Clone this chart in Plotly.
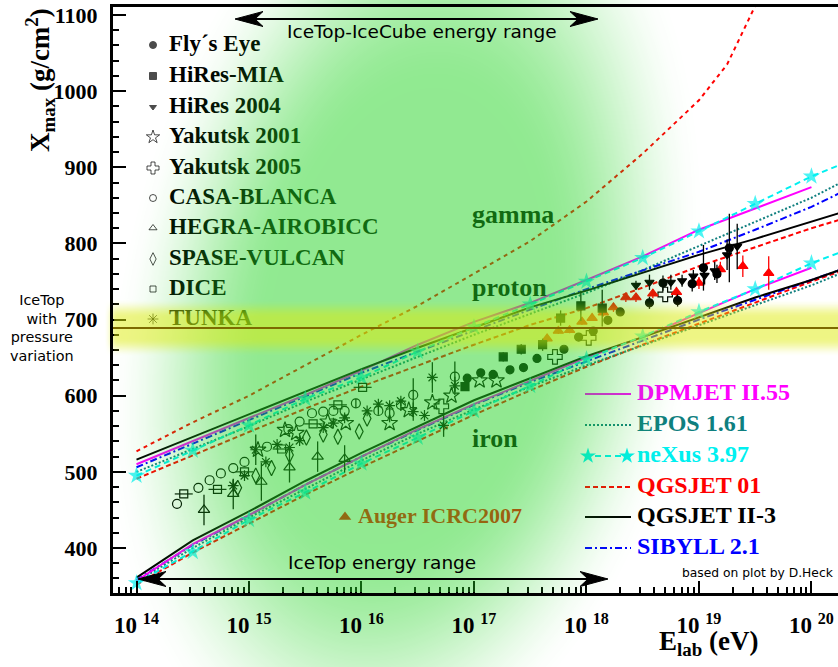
import base64
import struct
import zlib

import numpy as np
import plotly.graph_objects as go

# ---------------------------------------------------------------- page geometry
W, H = 838, 667
ML, MR, MT, MB = 113, 0, 7, 74
PW, PH = W - ML - MR, H - MT - MB
LGE_RANGE = [13.791, 20.236]          # lg(E/eV) across the frame
XMAX_RANGE = [340.9, 1110.5]          # g/cm^2 across the frame

# ---------------------------------------------------------------- model curves
lgE_model = [14.0, 14.5, 15.0, 15.5, 16.0, 16.5, 17.0, 17.5, 18.0, 18.5, 19.0, 19.5, 20.0, 20.25]

dpmjet_p = [510, 540, 570, 601, 633, 667, 697, 722, 752, 783, 818, 846, 874, None]
dpmjet_fe = [357, 405, 443, 483, 520, 556, 589, 620, 650, 677, 708, 740, 768, None]
epos_p = [500, 530, 560, 592, 622, 651, 680, 708, 735, 765, 797, 828, 860, 879]
epos_fe = [356, 400, 440, 478, 515, 550, 582, 612, 640, 666, 693, 719, 745, 760]
nexus_p = [495, 528, 561, 596, 624, 658, 690, 720, 750, 781, 816, 852, 888, 903]
nexus_fe = [354, 395, 437, 473, 511, 545, 580, 613, 648, 678, 710, 740, 774, 788]
qgsjet01_p = [491, 522, 553, 583, 612, 640, 667, 693, 715, 742, 770, 795, 820, 831]
qgsjet01_fe = [352, 394, 432, 470, 506, 541, 575, 607, 638, 667, 695, 722, 750, 763]
qgsjet2_p = [516, 546, 575, 605, 635, 663, 690, 716, 738, 762, 785, 806, 828, 840]
qgsjet2_fe = [361, 410, 448, 488, 525, 560, 594, 623, 652, 677, 703, 729, 752, 765]
sibyll_p = [506, 537, 568, 600, 630, 658, 686, 713, 740, 765, 789, 818, 848, 866]
sibyll_fe = [358, 404, 443, 483, 520, 555, 588, 618, 645, 673, 700, 726, 752, 765]

lgE_gamma = [14.0, 14.5, 15.0, 15.5, 16.0, 16.5, 17.0, 17.5, 18.0, 18.5, 19.0, 19.25, 19.5]
qgsjet01_gamma = [527, 565, 600, 640, 680, 718, 760, 803, 855, 918, 988, 1035, 1112]

# ---------------------------------------------------------------- measurements
flys_lgE = [16.94, 17.06, 17.17, 17.32, 17.44, 17.56, 17.80, 17.93, 18.06, 18.19, 18.30,
            18.56, 18.68, 18.81, 18.94, 19.04, 19.16, 19.27]
flys_X = [623, 630, 628, 634, 637, 649, 661, 677, 685, 699, 710, 722, 748, 725, 747, 768, 760, 794]
flys_err = [0, 0, 0, 0, 0, 0, 0, 0, 0, 4, 5, 8, 10, 8, 10, 30, 12, 45]

hiresmia_lgE = [16.92, 17.26, 17.42, 17.61, 17.77, 17.95, 18.14]
hiresmia_X = [612, 651, 661, 667, 702, 718, 715]
hiresmia_err = [5, 6, 7, 8, 10, 20, 24]

hires04_lgE = [18.44, 18.56, 18.75, 18.85, 18.95, 19.05, 19.14, 19.25, 19.34]
hires04_X = [745, 749, 749, 751, 757, 758, 764, 785, 796]
hires04_err = [6, 10, 10, 8, 8, 12, 12, 20, 30]

yak01_lgE = [15.08, 15.32, 15.42, 15.70, 15.86, 16.25, 16.42, 16.63, 16.80, 17.05, 17.20]
yak01_X = [529, 555, 551, 566, 564, 564, 581, 591, 600, 620, 620]

yak05_lgE = [16.71, 17.72, 18.02, 18.70]
yak05_X = [586, 651, 676, 733]

casa_lgE = [14.36, 14.55, 14.65, 14.75, 14.86, 14.96, 15.16, 15.35, 15.45, 15.56, 15.66, 15.75,
            15.85, 15.95, 16.15, 16.25, 16.35, 16.46, 16.83]
casa_X = [458, 479, 489, 498, 505, 513, 533, 556, 566, 577, 579, 580, 580, 590, 580, 577, 588, 601, 625]
casa_err = [0, 0, 0, 0, 0, 0, 0, 0, 0, 0, 0, 0, 0, 6, 5, 12, 8, 22, 20]

hegra_lgE = [14.60, 14.86, 15.11, 15.36, 15.61, 15.85]
hegra_X = [450, 471, 487, 506, 520, 517]
hegra_err = [20, 20, 25, 20, 20, 18]

spase_lgE = [14.90, 15.06, 15.20, 15.36, 15.51, 15.66, 15.79, 15.98, 16.05]
spase_X = [479, 495, 505, 522, 545, 549, 546, 553, 570]

dice_lgE = [14.42, 14.72, 14.96, 15.29, 15.57, 15.79, 16.01]
dice_X = [471, 477, 500, 530, 563, 588, 611]
dice_lgE_err = [0.08, 0.08, 0.08, 0.08, 0.08, 0.08, 0.08]

tunka_lgE = [14.86, 14.96, 15.06, 15.15, 15.25, 15.36, 15.45, 15.66, 15.75, 15.85, 16.05, 16.15,
             16.25, 16.35, 16.46, 16.56, 16.63, 16.73, 16.83]
tunka_X = [482, 495, 529, 513, 536, 532, 541, 558, 564, 571, 580, 589, 587, 593, 579, 574, 624, 561, 613]
tunka_err = [8, 0, 20, 0, 0, 0, 0, 0, 0, 0, 0, 0, 0, 0, 12, 0, 20, 15, 12]

auger_lgE = [17.65, 17.75, 17.85, 17.96, 18.05, 18.15, 18.24, 18.35, 18.44, 18.59, 18.80, 19.00,
             19.19, 19.39, 19.62]
auger_X = [675, 685, 686, 697, 702, 709, 716, 729, 729, 734, 736, 748, 766, 770, 761]
auger_err = [4, 4, 4, 4, 4, 5, 6, 6, 6, 6, 7, 8, 10, 14, 22]

# ---------------------------------------------------------------- labels
decades = [14, 15, 16, 17, 18, 19, 20]
decade_labels = ["10 <sup>14</sup>", "10 <sup>15</sup>", "10 <sup>16</sup>", "10 <sup>17</sup>",
                 "10 <sup>18</sup>", "10 <sup>19</sup>", "10 <sup>20</sup>"]
xmax_ticks = [400, 500, 600, 700, 800, 900, 1000, 1100]

exp_names = ["Fly´s Eye", "HiRes-MIA", "HiRes 2004", "Yakutsk 2001", "Yakutsk 2005",
             "CASA-BLANCA", "HEGRA-AIROBICC", "SPASE-VULCAN", "DICE", "TUNKA"]
model_names = ["DPMJET II.55", "EPOS 1.61", "neXus 3.97", "QGSJET 01", "QGSJET II-3", "SIBYLL 2.1"]

MAGENTA, TEAL, CYAN, RED, BLACK, BLUE = "#ff00ff", "#0f7f7f", "#00f0f0", "#ff0000", "#000000", "#0000ff"
SERIF = "Liberation Serif"
SANS = "DejaVu Sans"
ICETOP_XMAX = 689


def px_to_paper(px, py):
    return (px - ML) / PW, (H - MB - py) / PH


# ---------------------------------------------------------------- translucent colour wash
def smoothstep(e0, e1, v):
    t = np.clip((v - e0) / (e1 - e0), 0.0, 1.0)
    return t * t * (3 - 2 * t)


def png_uri(rgba):
    h, w, _ = rgba.shape
    rows = rgba.reshape(h, w * 4).astype(np.int16)
    sub = rows.copy()
    sub[:, 4:] = rows[:, 4:] - rows[:, :-4]
    sub = (sub % 256).astype(np.uint8)
    raw = b"".join(b"\x01" + sub[i].tobytes() for i in range(h))

    def chunk(tag, data):
        return (struct.pack(">I", len(data)) + tag + data
                + struct.pack(">I", zlib.crc32(tag + data) & 0xFFFFFFFF))

    png = (b"\x89PNG\r\n\x1a\n"
           + chunk(b"IHDR", struct.pack(">IIBBBBB", w, h, 8, 6, 0, 0, 0))
           + chunk(b"IDAT", zlib.compress(raw, 9))
           + chunk(b"IEND", b""))
    return "data:image/png;base64," + base64.b64encode(png).decode()


yy, xx = np.mgrid[0:H, 0:W].astype(float) + 0.5
cy = 330.0
cx = 405.0 + (cy - yy) * 0.12
ry = np.where(yy < cy, 440.0, 390.0)
dist = np.sqrt(((xx - cx) / 250.0) ** 2 + ((yy - cy) / ry) ** 2)
a_green = 0.5 * smoothstep(1.18, 0.55, dist)
band_y = 548 - (ICETOP_XMAX - 400) * (533 / 700)
a_yel = 0.5 * smoothstep(29, 10, np.abs(yy - band_y)) * smoothstep(104, 118, xx)
green = np.array([35.0, 212.0, 35.0])
yellow = np.array([222.0, 235.0, 10.0])
alpha = a_yel + a_green * (1 - a_yel)
rgb = (yellow * a_yel[..., None] + green * (a_green * (1 - a_yel))[..., None]) / np.maximum(alpha, 1e-6)[..., None]
inside = (xx >= ML + 1) & (yy >= MT + 1) & (yy <= H - MB - 1)


def wash(mask):
    img = np.zeros((H, W, 4), dtype=np.uint8)
    img[..., :3] = np.clip(np.round(rgb), 0, 255).astype(np.uint8)
    img[..., 3] = np.clip(np.round(255 * alpha * mask), 0, 255).astype(np.uint8)
    return png_uri(img)


# ---------------------------------------------------------------- figure
fig = go.Figure()


def add_curve(lg, vals, color, dash, width=2.0):
    fig.add_trace(go.Scatter(x=lg, y=vals, mode="lines", line=dict(color=color, dash=dash, width=width),
                             connectgaps=False, hoverinfo="skip"))


star_sizes = [13] * 13 + [0]
for p_vals, fe_vals, color, dash in [
    (qgsjet01_p, qgsjet01_fe, RED, "5px,3px"),
    (epos_p, epos_fe, TEAL, "2px,2px"),
    (sibyll_p, sibyll_fe, BLUE, "7px,3px,2px,3px"),
    (dpmjet_p, dpmjet_fe, MAGENTA, "solid"),
    (qgsjet2_p, qgsjet2_fe, BLACK, "solid"),
]:
    add_curve(lgE_model, p_vals, color, dash)
    add_curve(lgE_model, fe_vals, color, dash)

for vals in (nexus_p, nexus_fe):
    fig.add_trace(go.Scatter(x=lgE_model, y=vals, mode="lines+markers",
                             line=dict(color=CYAN, dash="6px,4px", width=2),
                             marker=dict(symbol="star", size=star_sizes, color=CYAN, line=dict(width=0)),
                             hoverinfo="skip"))
add_curve(lgE_gamma, qgsjet01_gamma, RED, "4px,4px")


# data points
def add_points(lg, vals, symbol, size, color="black", err=None, err_x=None, err_color="black"):
    marker = dict(symbol=symbol, size=size, color=color, line=dict(color=color, width=1.2))
    kw = {}
    if err is not None:
        kw["error_y"] = dict(type="data", array=err, visible=True, color=err_color, thickness=1.3, width=0)
    if err_x is not None:
        kw["error_x"] = dict(type="data", array=err_x, visible=True, color=err_color, thickness=1.2, width=0)
    fig.add_trace(go.Scatter(x=lg, y=vals, mode="markers", marker=marker, hoverinfo="skip", **kw))


add_points(hegra_lgE, hegra_X, "triangle-up-open", 10, err=hegra_err)
add_points(casa_lgE, casa_X, "circle-open", 9, err=casa_err)
add_points(spase_lgE, spase_X, "diamond-tall-open", 11)
add_points(dice_lgE, dice_X, "square-open", 8, err_x=dice_lgE_err)
add_points(yak01_lgE, yak01_X, "star-open", 12)
add_points(tunka_lgE, tunka_X, "asterisk-open", 9, err=tunka_err)
add_points(yak05_lgE, yak05_X, "cross-open", 12)
add_points(auger_lgE, auger_X, "triangle-up", 9, color=RED, err=auger_err, err_color=RED)
add_points(hiresmia_lgE, hiresmia_X, "square", 8, err=hiresmia_err)
add_points(flys_lgE, flys_X, "circle", 8, err=flys_err)
add_points(hires04_lgE, hires04_X, "triangle-down", 8, err=hires04_err)

# key and curve labels, drawn in page-pixel coordinates on an overlaid pair of axes
key_rows = [45, 76, 107, 137, 168, 198, 228, 259, 289, 319]
key_symbols = ["circle", "square", "triangle-down", "star-open", "cross-open", "circle-open",
               "triangle-up-open", "diamond-tall-open", "square-open", "asterisk-open"]
key_sizes = [7, 7, 6, 10, 10, 7, 7, 9, 6, 9]
fig.add_trace(go.Scatter(x=[153] * len(key_rows), y=key_rows, mode="markers", xaxis="x2", yaxis="y2",
                         marker=dict(symbol=key_symbols, size=key_sizes, color="black",
                                     line=dict(color="black", width=1)),
                         cliponaxis=False, hoverinfo="skip"))
fig.add_trace(go.Scatter(x=[169] * len(key_rows), y=key_rows, mode="text", xaxis="x2", yaxis="y2",
                         text=["<b>%s</b>" % n for n in exp_names], textposition="middle right",
                         textfont=dict(family=SERIF, size=23, color="black"),
                         cliponaxis=False, hoverinfo="skip"))

model_rows = [394, 425, 456, 487, 517, 548]
model_colors = [MAGENTA, TEAL, CYAN, RED, BLACK, BLUE]
model_dash = ["solid", "2px,2px", "6px,4px", "5px,3px", "solid", "7px,3px,2px,3px"]
for row, col, dash in zip(model_rows, model_colors, model_dash):
    fig.add_trace(go.Scatter(x=[585, 631], y=[row, row], mode="lines", xaxis="x2", yaxis="y2",
                             line=dict(color=col, width=2, dash=dash), hoverinfo="skip"))
fig.add_trace(go.Scatter(x=[588, 627], y=[model_rows[2]] * 2, mode="markers", xaxis="x2", yaxis="y2",
                         marker=dict(symbol="star", size=12, color=CYAN, line=dict(width=0)),
                         hoverinfo="skip"))
for row, col, name in zip(model_rows, model_colors, model_names):
    fig.add_trace(go.Scatter(x=[637], y=[row], mode="text", xaxis="x2", yaxis="y2",
                             text=["<b>%s</b>" % name], textposition="middle right",
                             textfont=dict(family=SERIF, size=24, color=col),
                             cliponaxis=False, hoverinfo="skip"))

for label, lx, ly in [("gamma", 472, 216), ("proton", 472, 289), ("iron", 472, 440)]:
    fig.add_trace(go.Scatter(x=[lx], y=[ly], mode="text", xaxis="x2", yaxis="y2",
                             text=["<b>%s</b>" % label], textposition="middle right",
                             textfont=dict(family=SERIF, size=26, color="black"),
                             cliponaxis=False, hoverinfo="skip"))
fig.add_trace(go.Scatter(x=[345], y=[517], mode="markers", xaxis="x2", yaxis="y2",
                         marker=dict(symbol="triangle-up", size=11, color=RED), hoverinfo="skip"))
fig.add_trace(go.Scatter(x=[358], y=[517], mode="text", xaxis="x2", yaxis="y2",
                         text=["<b>Auger ICRC2007</b>"], textposition="middle right",
                         textfont=dict(family=SERIF, size=22, color=RED),
                         cliponaxis=False, hoverinfo="skip"))

# ---------------------------------------------------------------- axes
minor_x = [d + np.log10(k) for d in range(13, 21) for k in range(2, 10)]
minor_y = [v for v in range(340, 1111, 20) if v % 100]
tick_font = dict(family=SERIF, size=23, color="black", weight="bold")

fig.update_layout(
    width=W, height=H,
    margin=dict(l=ML, r=MR, t=MT, b=MB, pad=0),
    paper_bgcolor="white", plot_bgcolor="rgba(0,0,0,0)",
    showlegend=False,
    xaxis=dict(range=LGE_RANGE, tickmode="array", tickvals=decades, ticktext=decade_labels,
               ticks="inside", ticklen=12, tickwidth=2, tickcolor="black", ticklabelstandoff=10,
               showline=True, linewidth=2.5, linecolor="black", mirror=True,
               showgrid=False, zeroline=False, automargin=False, tickfont=tick_font,
               minor=dict(tickmode="array", tickvals=minor_x, ticks="inside", ticklen=6,
                          tickwidth=1.5, tickcolor="black", showgrid=False)),
    yaxis=dict(range=XMAX_RANGE, tickmode="array", tickvals=xmax_ticks,
               ticks="inside", ticklen=13, tickwidth=2, tickcolor="black", ticklabelstandoff=8,
               showline=True, linewidth=3, linecolor="black", mirror=False,
               showgrid=False, zeroline=False, automargin=False,
               tickfont=dict(family=SERIF, size=22, color="black", weight="bold"),
               minor=dict(tickmode="array", tickvals=minor_y, ticks="inside", ticklen=6,
                          tickwidth=1.5, tickcolor="black", showgrid=False)),
    xaxis2=dict(overlaying="x", range=[ML, W], visible=False, anchor="y2"),
    yaxis2=dict(overlaying="y", range=[H - MB, MT], visible=False, anchor="x2"),
)

# colour wash: inside the frame it tints everything drawn, outside it sits behind the labels
x0, y0 = px_to_paper(0, 0)
for mask, layer in [(inside, "above"), (~inside, "below")]:
    fig.add_layout_image(dict(source=wash(mask), xref="paper", yref="paper", x=x0, y=y0,
                              sizex=W / PW, sizey=H / PH, xanchor="left", yanchor="top",
                              sizing="stretch", layer=layer, opacity=1))

# IceTop pressure-variation level
fig.add_shape(type="line", xref="paper", yref="y", x0=0, x1=1, y0=ICETOP_XMAX, y1=ICETOP_XMAX,
              line=dict(color="#7d6a00", width=2), layer="above")


# energy-range arrows
def arrow_head(tx, ty, direction):
    pts = [(tx, ty), (tx + direction * 28, ty - 7.5), (tx + direction * 20, ty), (tx + direction * 28, ty + 7.5)]
    path = "M " + " L ".join("%.5f,%.5f" % px_to_paper(a, b) for a, b in pts) + " Z"
    fig.add_shape(type="path", xref="paper", yref="paper", path=path,
                  fillcolor="black", line=dict(color="black", width=1), layer="above")


def range_arrow(xl, xr, y):
    (p0, q0), (p1, q1) = px_to_paper(xl + 6, y), px_to_paper(xr - 6, y)
    fig.add_shape(type="line", xref="paper", yref="paper", x0=p0, y0=q0, x1=p1, y1=q1,
                  line=dict(color="black", width=2), layer="above")
    arrow_head(xl, y, 1)
    arrow_head(xr, y, -1)


range_arrow(235, 598, 19)
range_arrow(138, 608, 579)


def note(text, px, py, size, family=SANS, angle=0, align="center", xanchor="center"):
    ax_, ay_ = px_to_paper(px, py)
    fig.add_annotation(text=text, xref="paper", yref="paper", x=ax_, y=ay_, showarrow=False,
                       xanchor=xanchor, yanchor="middle", align=align, textangle=angle,
                       font=dict(family=family, size=size, color="black"))


note("IceTop-IceCube energy range", 422, 32, 18.5)
note("IceTop energy range", 382, 562, 18.5)
note("based on plot by D.Heck", 758, 573, 12.3)
note("IceTop<br>with<br>pressure<br>variation", 42, 328, 14.4)
note("<b>X<sub>max</sub> (g/cm<sup>2</sup>)</b>", 40, 80, 27, family=SERIF, angle=-90)
note("<b>E<sub>lab</sub> (eV)</b>", 708, 643, 27, family=SERIF)

fig.write_html("out.html")
